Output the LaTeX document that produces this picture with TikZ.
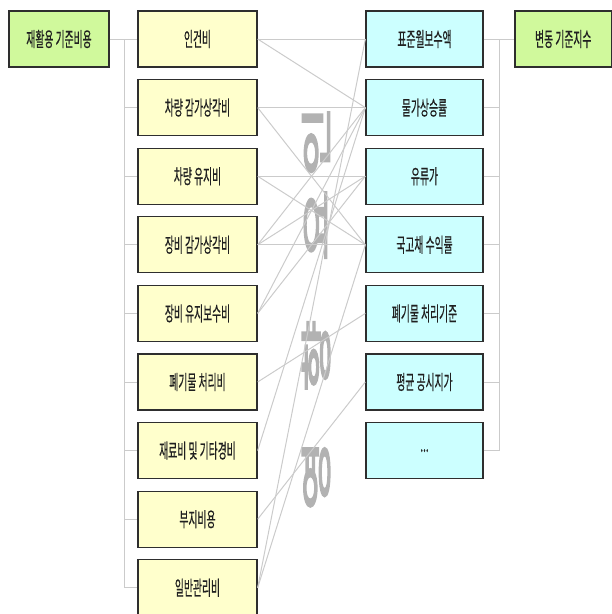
\documentclass[tikz,border=0pt]{standalone}
\usepackage{graphicx}
\usepackage{fontspec}
\newfontfamily\kr[FakeBold=0.6]{Noto Sans CJK KR}
\newfontfamily\krb[FakeBold=4]{Noto Sans CJK KR}
\definecolor{ybg}{HTML}{FFFFCC}
\definecolor{cbg}{HTML}{CCFFFF}
\definecolor{gbg}{HTML}{D0F99C}
\definecolor{boxline}{HTML}{2E2E2E}
\definecolor{linec}{HTML}{CBCBCB}
\definecolor{vtc}{HTML}{B2B2B2}
\definecolor{textc}{HTML}{202020}
\newcommand\sq[1]{\scalebox{0.49}[1]{#1}}
\newcommand\vs[1]{\scalebox{2.55}[1]{#1}}
\begin{document}
\begin{tikzpicture}[x=1pt,y=-1pt,
  box/.style={draw=boxline, line width=1.3pt, minimum height=56pt, inner sep=0pt,
    font=\kr\fontsize{20}{20}\selectfont, text=textc},
  ybox/.style={box, fill=ybg, minimum width=119pt},
  cbox/.style={box, fill=cbg, minimum width=117pt},
  gbox/.style={box, fill=gbg},
  link/.style={draw=linec, line width=1pt},
  vt/.style={text=vtc, rotate=90, font=\krb\fontsize{31}{31}\selectfont, inner sep=0pt}]
\useasboundingbox (0,0) rectangle (612,614);

% vertical label
\node[vt] (v1) at (316,141) {\vs{인}};
\node[vt] (v2) at (316,225) {\vs{요}};
\node[vt] (v3) at (316,356) {\vs{향}};
\node[vt] (v4) at (316,475) {\vs{영}};

% boxes
\node[gbox, minimum width=100pt] (G1) at (59,39) {\sq{재활용 기준비용}};
\node[gbox, minimum width=96.5pt] (G2) at (563.25,39) {\sq{변동 기준지수}};

\node[ybox] (L1) at (197.5,39.0) {\sq{인건비}};
\node[ybox] (L2) at (197.5,107.6) {\sq{차량 감가상각비}};
\node[ybox] (L3) at (197.5,176.2) {\sq{차량 유지비}};
\node[ybox] (L4) at (197.5,244.8) {\sq{장비 감가상각비}};
\node[ybox] (L5) at (197.5,313.4) {\sq{장비 유지보수비}};
\node[ybox] (L6) at (197.5,382.0) {\sq{폐기물 처리비}};
\node[ybox] (L7) at (197.5,450.6) {\sq{재료비 및 기타경비}};
\node[ybox] (L8) at (197.5,519.2) {\sq{부지비용}};
\node[ybox] (L9) at (197.5,587.8) {\sq{일반관리비}};

\node[cbox] (R1) at (424.5,39.0) {\sq{표준월보수액}};
\node[cbox] (R2) at (424.5,107.6) {\sq{물가상승률}};
\node[cbox] (R3) at (424.5,176.2) {\sq{유류가}};
\node[cbox] (R4) at (424.5,244.8) {\sq{국고채 수익률}};
\node[cbox] (R5) at (424.5,313.4) {\sq{폐기물 처리기준}};
\node[cbox] (R6) at (424.5,382.0) {\sq{평균 공시지가}};
\node[cbox] (R7) at (424.5,450.6) {\sq{...}};

% trees
\coordinate (tl) at (124.5,0);
\coordinate (tr) at (499,0);
\draw[link] (G1.east) -- (L1.west);
\draw[link] (L1.west -| tl) -- (L9.west -| tl);
\foreach \i in {2,...,9} { \draw[link] (L\i.west -| tl) -- (L\i.west); }
\draw[link] (R1.east) -- (G2.west);
\draw[link] (R1.east -| tr) -- (R7.east -| tr);
\foreach \i in {2,...,7} { \draw[link] (R\i.east) -- (R\i.east -| tr); }

% cross links
\foreach \a/\b in {1/1,1/2,2/2,2/4,3/3,3/4,4/4,4/3,4/2,5/3,5/2,6/5,7/2,8/6,9/1,9/4}
  { \draw[link] (L\a.east) -- (R\b.west); }
\end{tikzpicture}
\end{document}
